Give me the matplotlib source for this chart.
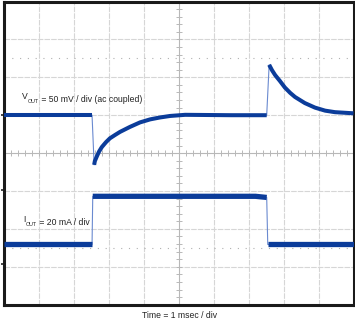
import numpy as np
import matplotlib
matplotlib.use("Agg")
import matplotlib.pyplot as plt
from matplotlib import font_manager

# scope trace, x in msec (1 msec/div), y in divisions
vout_t = [0.0, 2.53,
          2.59, 2.61, 2.67, 2.73, 2.81, 2.93, 3.04, 3.19, 3.33, 3.61, 3.90, 4.19, 4.47,
          4.76, 5.19, 6.50, 7.52,
          7.59, 7.67, 7.76, 7.90, 8.04, 8.19, 8.33, 8.61, 8.90, 9.19, 9.47, 10.0]
vout = [5.00, 5.00,
        3.69, 3.79, 3.92, 4.04, 4.16, 4.29, 4.39, 4.48, 4.56, 4.69, 4.81, 4.89, 4.94,
        4.98, 5.01, 5.00, 5.00,
        6.33, 6.19, 6.06, 5.90, 5.73, 5.59, 5.48, 5.32, 5.20, 5.12, 5.08, 5.05]

iout_t = [0.0, 2.53, 2.55, 7.20, 7.52, 7.55, 10.0]
iout = [1.59, 1.59, 2.86, 2.86, 2.83, 1.59, 1.59]

# where the thin step edges split the thick traces
vout_breaks = [0, 2, 19, len(vout)]
iout_breaks = [0, 2, 5, len(iout)]

ref_marks = [5.0, 3.03, 1.08]
dotted_levels = [6.5, 1.5]

names = set(f.name for f in font_manager.fontManager.ttflist)
fam = "DejaVu Sans"
for cand in ["Liberation Sans Narrow", "Liberation Sans", "Arial"]:
    if cand in names:
        fam = cand
        break
plt.rcParams["font.family"] = fam
fs = 6.2

trace_col = "#0b3c9a"
edge_col = "#6a8ad0"
txt_col = "#222222"

fig = plt.figure(figsize=(3.55, 3.19), dpi=100)
ax = fig.add_axes([3.5 / 355, 14.3 / 319, 350 / 355, 303.2 / 319])
ax.set_xlim(0, 10)
ax.set_ylim(0, 8)

# graticule
for x in range(1, 10):
    if x != 5:
        ax.axvline(x, color="#d6d6d6", lw=0.8, ls=(0, (5, 1)), zorder=1)
for y in range(1, 8):
    if y != 4:
        ax.axhline(y, color="#d6d6d6", lw=0.8, ls=(0, (5, 1)), zorder=1)
ax.axvline(5, color="#b8b8b8", lw=0.8, zorder=1)
ax.axhline(4, color="#b8b8b8", lw=0.8, zorder=1)
ax.plot(np.full(41, 5.0), np.arange(0, 8.01, 0.2), ls="none", marker="_", ms=5,
        mew=0.7, color="#b8b8b8", zorder=1)
ax.plot(np.arange(0, 10.01, 0.2), np.full(51, 4.0), ls="none", marker="|", ms=5,
        mew=0.7, color="#b8b8b8", zorder=1)
for lv in dotted_levels:
    ax.axhline(lv, color="#b0b0b0", lw=0.8, ls=(0, (1, 6)), zorder=1)

# traces: thin edges first, then thick bands
ax.plot(vout_t, vout, color=edge_col, lw=0.8, zorder=2)
ax.plot(iout_t, iout, color=edge_col, lw=0.8, zorder=2)
for a, b in zip(vout_breaks[:-1], vout_breaks[1:]):
    ax.plot(vout_t[a:b], vout[a:b], color=trace_col, lw=2.9, zorder=3,
            solid_capstyle="butt", solid_joinstyle="round")
for a, b in zip(iout_breaks[:-1], iout_breaks[1:]):
    ax.plot(iout_t[a:b], iout[a:b], color=trace_col, lw=3.8, zorder=3,
            solid_capstyle="butt")


def sub_label(x, y, main, sub, rest):
    t1 = ax.text(x, y, main, fontsize=fs, va="baseline", ha="left", color=txt_col)
    t2 = ax.annotate(sub, xy=(1, 0), xycoords=t1, xytext=(0.2, -1.0),
                     textcoords="offset points", fontsize=fs * 0.62,
                     va="baseline", ha="left", color=txt_col)
    ax.annotate(rest, xy=(1, 0), xycoords=t2, xytext=(0.2, 1.0),
                textcoords="offset points", fontsize=fs, va="baseline",
                ha="left", color=txt_col)


sub_label(0.53, 5.42, "V", "OUT", " = 50 mV / div (ac coupled)")
sub_label(0.55, 2.17, "I", "OUT", " = 20 mA / div")
fig.text(180 / 355, 1 - 315 / 319, "Time = 1 msec / div", fontsize=fs,
         ha="center", va="center", color=txt_col)

ax.set_xticks([])
ax.set_yticks(ref_marks)
ax.set_yticklabels([])
ax.tick_params(axis="y", direction="out", length=2.5, width=1.2, color="#222222")
for s in ax.spines.values():
    s.set_linewidth(2.2)
    s.set_color("#1a1a1a")

fig.savefig("out.png", dpi=100)
